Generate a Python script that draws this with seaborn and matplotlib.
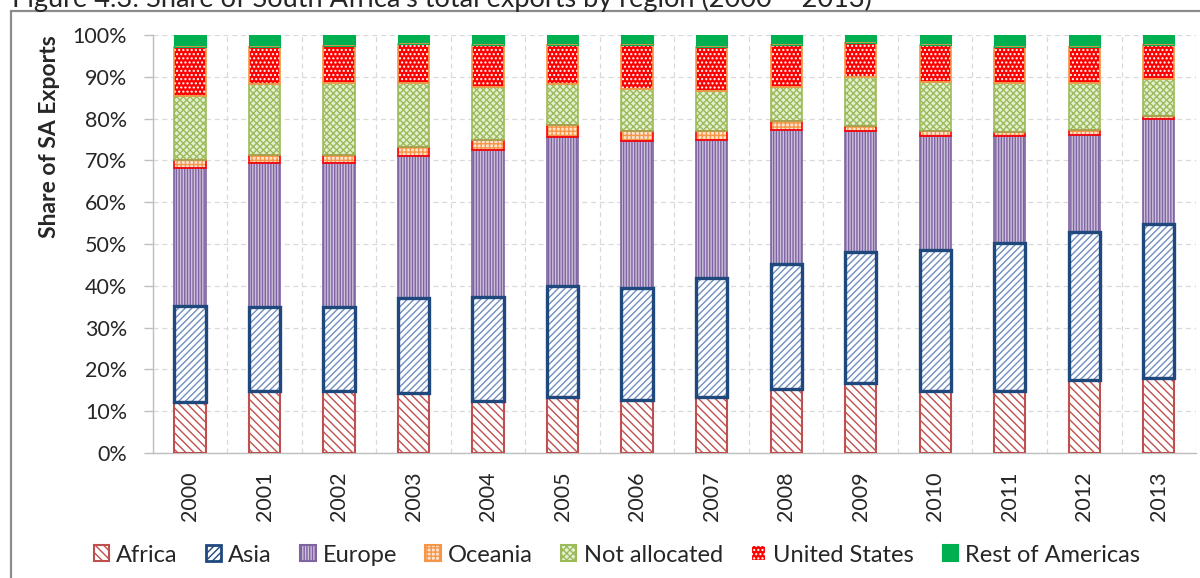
import matplotlib
matplotlib.use("Agg")
import matplotlib.pyplot as plt
import numpy as np
import pandas as pd
import seaborn as sns
from matplotlib.patches import Patch, Rectangle
from matplotlib.ticker import FixedLocator, PercentFormatter

years = [str(y) for y in range(2000, 2014)]
regions = ["Africa", "Asia", "Europe", "Oceania", "Not allocated",
           "United States", "Rest of Americas"]

# share of SA exports (%) per region
africa = [12.3, 14.8, 14.8, 14.3, 12.4, 13.5, 12.7, 13.3, 15.3, 16.7, 14.8, 14.8, 17.5, 18.0]
asia = [22.9, 20.1, 20.2, 22.9, 25.0, 26.5, 26.8, 28.5, 29.8, 31.5, 33.8, 35.4, 35.3, 36.9]
europe = [33.1, 34.6, 34.4, 33.9, 35.1, 35.5, 35.1, 33.1, 32.2, 28.9, 27.3, 25.7, 23.3, 24.9]
oceania = [1.7, 1.9, 2.0, 2.2, 2.4, 3.0, 2.4, 2.1, 2.2, 1.2, 1.2, 1.0, 1.2, 0.8]
not_allocated = [15.4, 16.8, 17.2, 15.3, 12.7, 9.7, 10.0, 9.5, 8.1, 11.7, 11.6, 11.7, 11.3, 8.9]
united_states = [11.8, 8.9, 8.8, 9.2, 10.1, 9.4, 10.5, 10.6, 10.0, 8.0, 8.8, 8.5, 8.5, 8.0]
rest_americas = [2.8, 2.9, 2.6, 2.2, 2.3, 2.4, 2.5, 2.9, 2.4, 2.0, 2.5, 2.9, 2.9, 2.5]

df = pd.DataFrame({"year": years, "Africa": africa, "Asia": asia, "Europe": europe,
                   "Oceania": oceania, "Not allocated": not_allocated,
                   "United States": united_states, "Rest of Americas": rest_americas})

# face, hatch colour, hatch, edge colour, edge width
styles = {
    "Africa": ("white", "#C0504D", "\\\\\\\\", "#C0504D", 1.5),
    "Asia": ("white", "#6F8FC0", "/////", "#1F497D", 2.4),
    "Europe": ("#CCC0DA", "#8064A2", "||||||", "#8064A2", 1.2),
    "Oceania": ("#FCE4D0", "#F79646", "++++", "#FF0000", 1.2),
    "Not allocated": ("#E4EED2", "#9BBB59", "xxxxx", "#9BBB59", 1.2),
    "United States": ("#FF0000", "white", "....", "#F79646", 1.2),
    "Rest of Americas": ("#00B050", "#00B050", None, "#00B050", 0.8),
}

sns.set_style("white")
plt.rcParams["font.family"] = ["Lato", "DejaVu Sans"]
plt.rcParams["hatch.linewidth"] = 1.0

fig = plt.figure(figsize=(12, 5.78), dpi=100)
ax = fig.add_axes([0.1273, 0.2163, 0.8694, 0.7231])

bottoms = np.zeros(len(years))
stack = {}
for r in regions:
    stack[r] = bottoms.copy()
    face, hcol, hatch, ecol, lw = styles[r]
    sns.barplot(data=df, x="year", y=r, width=0.42, errorbar=None, ax=ax,
                color="white", saturation=1,
                bottom=stack[r], facecolor=face, edgecolor=hcol, hatch=hatch,
                linewidth=0, zorder=2)
    bottoms = bottoms + df[r].values

# outlines on top, Asia last so its thick border dominates
for r in [x for x in regions if x != "Asia"] + ["Asia"]:
    face, hcol, hatch, ecol, lw = styles[r]
    sns.barplot(data=df, x="year", y=r, width=0.42, errorbar=None, ax=ax,
                color="white", saturation=1,
                bottom=stack[r], facecolor="none", edgecolor=ecol,
                linewidth=lw, zorder=3)

ax.set_xlim(-0.5, len(years) - 0.5)
ax.set_ylim(0, 100)
ax.set_xlabel("")
ax.set_ylabel("")
ax.yaxis.set_major_locator(FixedLocator(np.arange(0, 101, 10)))
ax.yaxis.set_major_formatter(PercentFormatter(decimals=0))
ax.xaxis.set_minor_locator(FixedLocator(np.arange(-0.5, len(years), 1)))
ax.grid(axis="y", which="major", color="#D9D9D9", linestyle=(0, (4, 3)), linewidth=0.9, zorder=0)
ax.grid(axis="x", which="minor", color="#D9D9D9", linestyle=(0, (4, 3)), linewidth=0.9, zorder=0)
ax.grid(axis="x", which="major", visible=False)
ax.set_axisbelow(True)

for s in ["top", "right"]:
    ax.spines[s].set_visible(False)
for s in ["left", "bottom"]:
    ax.spines[s].set_color("#BFBFBF")
    ax.spines[s].set_linewidth(1.0)

ax.tick_params(axis="x", which="major", length=0, pad=13, labelsize=15.5, rotation=90)
ax.tick_params(axis="x", which="minor", length=6, color="#BFBFBF", width=1.0)
ax.tick_params(axis="y", which="major", length=6.5, color="#BFBFBF", width=1.0,
               pad=12, labelsize=15.5, left=True)

fig.text(50 / 1200, 1 - 137 / 578, "Share of SA Exports", rotation=90, ha="center",
         va="center", fontsize=16.5, fontweight="bold")

# the caption sits partly above the top edge, as in the source crop
fig.text(12 / 1200, 1 - 7.5 / 578,
         "Figure 4.3: Share of South Africa\u2019s total exports by region (2000 \u2013 2013)",
         ha="left", va="baseline", fontsize=19.5)

fig.add_artist(Rectangle((11 / 1200, -0.1), 1.2, 1.1 - 11.5 / 578, transform=fig.transFigure,
                         fill=False, edgecolor="#8C8C8C", linewidth=1.6))

handles = []
for r in regions:
    face, hcol, hatch, ecol, lw = styles[r]
    handles.append(Patch(facecolor=face, edgecolor=hcol if r != "Asia" else ecol,
                         hatch=hatch, linewidth=1.5 if r != "Asia" else 2.0, label=r))
fig.legend(handles=handles, loc="center", bbox_to_anchor=(0.514, 1 - 555 / 578), ncol=7,
           frameon=False, fontsize=17, handlelength=0.65, handleheight=0.65,
           handletextpad=0.3, columnspacing=1.2)

fig.savefig("out.png", dpi=100)
